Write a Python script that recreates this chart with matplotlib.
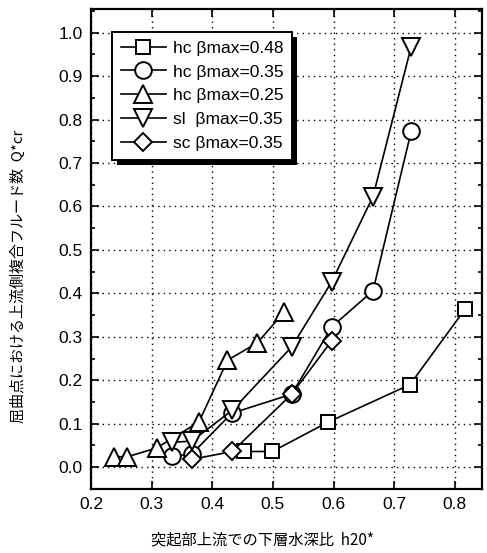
import numpy as np
import matplotlib
matplotlib.use('Agg')
from matplotlib import pyplot as plt
from matplotlib.ticker import MultipleLocator
from matplotlib.patches import Rectangle
from matplotlib.transforms import IdentityTransform

plt.rcParams['font.family'] = ['Liberation Sans', 'DejaVu Sans']

# hc bmax=0.48
x_sq = [0.452, 0.499, 0.590, 0.726, 0.817]
y_sq = [0.036, 0.036, 0.103, 0.190, 0.364]
# hc bmax=0.35
x_ci = [0.333, 0.366, 0.432, 0.531, 0.597, 0.665, 0.728]
y_ci = [0.025, 0.030, 0.124, 0.168, 0.323, 0.406, 0.773]
# hc bmax=0.25
x_tu = [0.237, 0.260, 0.308, 0.378, 0.425, 0.474, 0.518]
y_tu = [0.024, 0.024, 0.044, 0.104, 0.246, 0.286, 0.356]
# sl bmax=0.35
x_td = [0.333, 0.366, 0.433, 0.531, 0.597, 0.665, 0.728]
y_td = [0.057, 0.060, 0.131, 0.277, 0.427, 0.623, 0.968]
# sc bmax=0.35
x_di = [0.366, 0.433, 0.531, 0.597]
y_di = [0.018, 0.036, 0.168, 0.291]

labels = ['hc βmax=0.48', 'hc βmax=0.35', 'hc βmax=0.25', 'sl  βmax=0.35', 'sc βmax=0.35']

fig = plt.figure(figsize=(4.87, 5.53), dpi=100)
ax = fig.add_axes([0.187, 0.116, 0.803, 0.868])

kw = dict(color='black', lw=1.2, mfc='white', mec='black', mew=1.4)
ax.plot(x_sq, y_sq, marker='s', ms=9.5, label=labels[0], **kw)
ax.plot(x_ci, y_ci, marker='o', ms=12, label=labels[1], **kw)
ax.plot(x_tu, y_tu, marker='^', ms=13, label=labels[2], **kw)
ax.plot(x_td, y_td, marker='v', ms=13, label=labels[3], **kw)
ax.plot(x_di, y_di, marker='D', ms=9.5, label=labels[4], **kw)

ax.set_xlim(0.2, 0.845)
ax.set_ylim(-0.05, 1.055)
ax.set_xticks([0.2, 0.3, 0.4, 0.5, 0.6, 0.7, 0.8])
ax.set_xticklabels(['0.2', '0.3', '0.4', '0.5', '0.6', '0.7', '0.8'])
ax.set_yticks(np.arange(0, 1.01, 0.1))
ax.set_yticklabels(['%.1f' % v for v in np.arange(0, 1.01, 0.1)])
ax.yaxis.set_minor_locator(MultipleLocator(0.05))
ax.tick_params(which='both', direction='in', top=True, right=True, labelsize=12.5, width=1.2)
ax.tick_params(which='major', length=6, pad=6)
ax.tick_params(which='minor', length=3)
ax.grid(True, which='major', ls=(0, (1, 3)), color='black', lw=1.0)
for s in ax.spines.values():
    s.set_linewidth(1.6)

leg = ax.legend(loc='upper left', bbox_to_anchor=(0.054, 0.952), fontsize=12.5,
                handlelength=2.6, handletextpad=0.4, labelspacing=0.5,
                borderpad=0.5, borderaxespad=0, fancybox=False, shadow=False,
                framealpha=1, edgecolor='black')
leg.get_frame().set_linewidth(1.4)

# solid black drop shadow behind the legend
fig.canvas.draw()
bb = leg.get_window_extent()
ax.add_patch(Rectangle((bb.x0 + 5, bb.y0 - 5), bb.width, bb.height, transform=IdentityTransform(),
                       facecolor='black', edgecolor='none', zorder=4.9, clip_on=False))

fig.text(0.54, 0.024, '突起部上流での下層水深比  h20*', ha='center', va='center',
         fontsize=11, family=['Noto Sans CJK JP', 'DejaVu Sans'])
fig.text(0.037, 0.50, '屈曲点における上流側複合フルード数  Q*cr', ha='center', va='center',
         rotation=90, fontsize=10.8, family=['Noto Sans CJK JP', 'DejaVu Sans'])

fig.savefig('out.png', dpi=100)
